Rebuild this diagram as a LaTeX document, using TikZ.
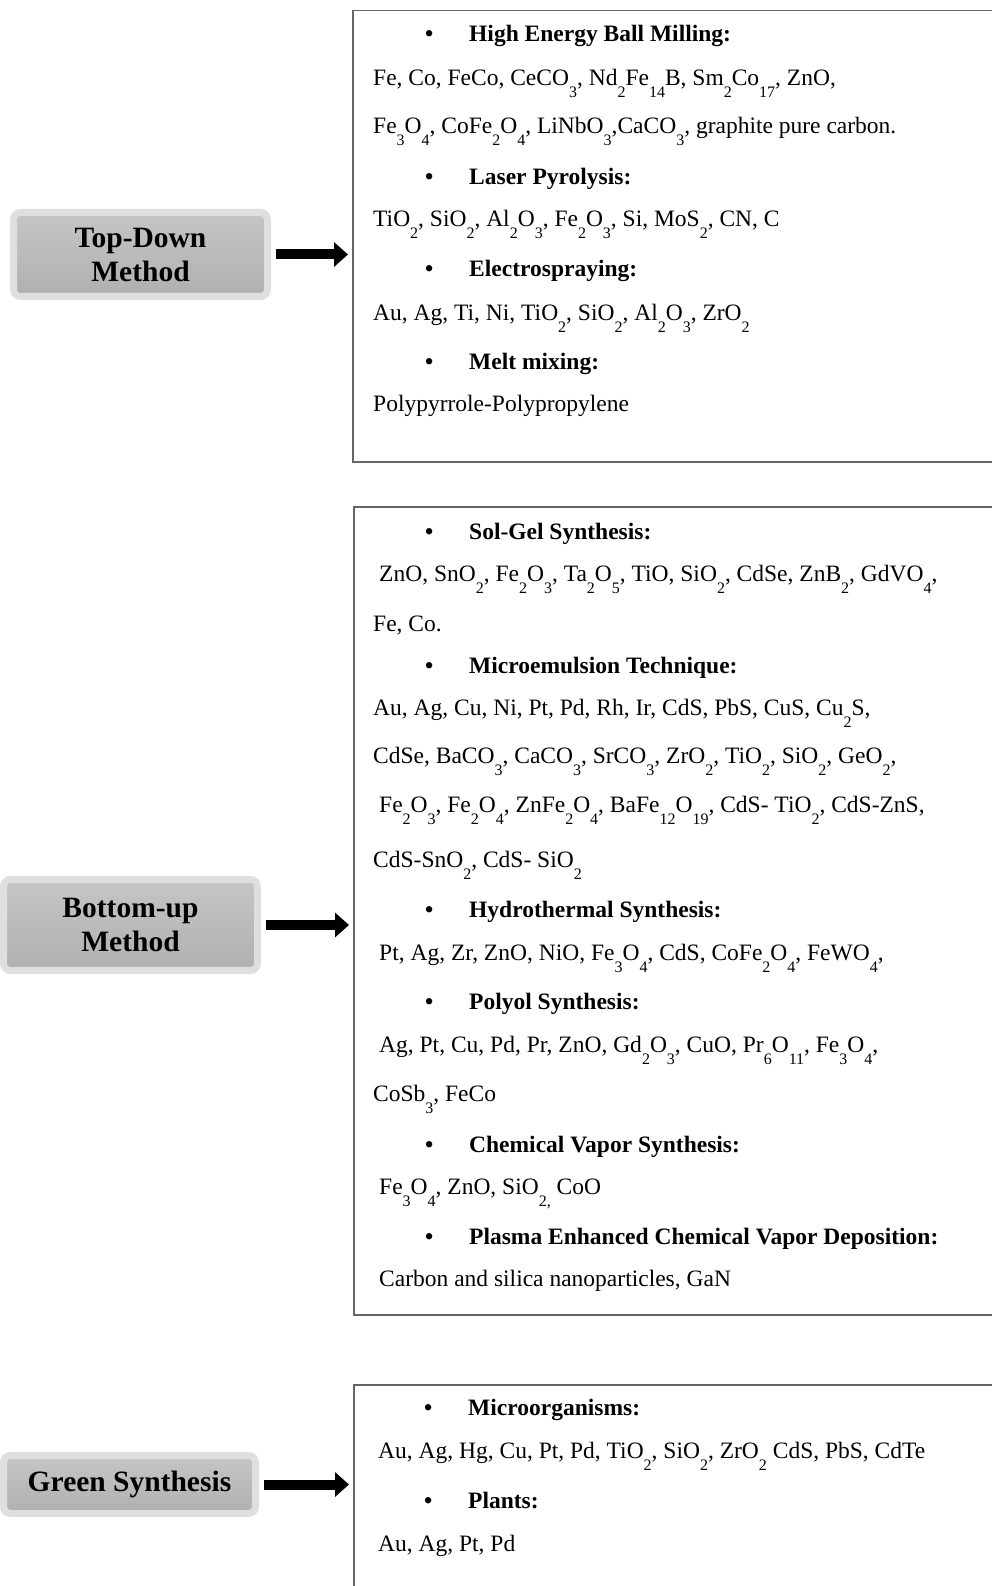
\documentclass[tikz,border=0pt]{standalone}
\usepackage{fontspec}
\setmainfont{Liberation Serif}
\usetikzlibrary{shadows,arrows.meta}
\newcommand\sbs[1]{\raisebox{-12pt}{\fontsize{16}{16}\selectfont #1}}
\newcommand\bul{\makebox[44pt][l]{\textbullet}}
\begin{document}
\begin{tikzpicture}[x=1pt,y=-1pt,
  txt/.style={anchor=base west,inner sep=0pt,font=\fontsize{23.5}{28}\selectfont},
  head/.style={txt,font=\fontsize{23.5}{28}\selectfont\bfseries},
  listbox/.style={draw=black!60,line width=1.5pt,anchor=north west,inner sep=0pt,minimum width=700pt},
  method/.style={draw=gray!25,line width=7pt,rounded corners=7pt,top color=gray!45,bottom color=gray!62,drop shadow={opacity=0.35,shadow xshift=2pt,shadow yshift=-2pt},align=center,inner sep=0pt,font=\fontsize{29.5}{34}\selectfont\bfseries},
  goes/.style={-{Triangle[length=14pt,width=24pt]},line width=10pt,shorten <=5pt,shorten >=4pt}]
\useasboundingbox (0,0) rectangle (992,1586);
\clip (0,0) rectangle (992,1586);
\node[listbox,minimum height=451pt] (tdbox) at (352,10) {};
\node[listbox,minimum height=808pt] (bubox) at (353,506) {};
\node[listbox,minimum height=300pt] (gsbox) at (353,1384) {};
\node[method,minimum width=254pt,minimum height=84pt] (td) at (140.5,254.5) {Top-Down\\Method};
\node[method,minimum width=254pt,minimum height=91pt] (bu) at (130.5,925) {Bottom-up\\Method};
\node[method,minimum width=252pt,minimum height=58pt] (gs) at (129.5,1484.5) {Green Synthesis};
\draw[goes] (td.east) -- (td.east -| tdbox.west);
\draw[goes] (bu.east) -- (bu.east -| bubox.west);
\draw[goes] (gs.east) -- (gs.east -| gsbox.west);
\node[head] (tdh1) at (425,42) {\bul High Energy Ball Milling:};
\node[txt] (td1) at (373,86) {Fe, Co, FeCo, CeCO\sbs{3}, Nd\sbs{2}Fe\sbs{14}B, Sm\sbs{2}Co\sbs{17}, ZnO,};
\node[txt] (td2) at (373,134) {Fe\sbs{3}O\sbs{4}, CoFe\sbs{2}O\sbs{4}, LiNbO\sbs{3},CaCO\sbs{3}, graphite pure carbon.};
\node[head] (tdh2) at (425,185) {\bul Laser Pyrolysis:};
\node[txt] (td3) at (373,227) {TiO\sbs{2}, SiO\sbs{2}, Al\sbs{2}O\sbs{3}, Fe\sbs{2}O\sbs{3}, Si, MoS\sbs{2}, CN, C};
\node[head] (tdh3) at (425,277) {\bul Electrospraying:};
\node[txt] (td4) at (373,320) {Au, Ag, Ti, Ni, TiO\sbs{2}, SiO\sbs{2}, Al\sbs{2}O\sbs{3}, ZrO\sbs{2}};
\node[head] (tdh4) at (425,369) {\bul Melt mixing:};
\node[txt] (td5) at (373,411) {Polypyrrole-Polypropylene};
\node[head] (buh1) at (425,539) {\bul Sol-Gel Synthesis:};
\node[txt] (bu1) at (379,581) {ZnO, SnO\sbs{2}, Fe\sbs{2}O\sbs{3}, Ta\sbs{2}O\sbs{5}, TiO, SiO\sbs{2}, CdSe, ZnB\sbs{2}, GdVO\sbs{4},};
\node[txt] (bu2) at (373,631) {Fe, Co.};
\node[head] (buh2) at (425,673) {\bul Microemulsion Technique:};
\node[txt] (bu3) at (373,715) {Au, Ag, Cu, Ni, Pt, Pd, Rh, Ir, CdS, PbS, CuS, Cu\sbs{2}S,};
\node[txt] (bu4) at (373,763) {CdSe, BaCO\sbs{3}, CaCO\sbs{3}, SrCO\sbs{3}, ZrO\sbs{2}, TiO\sbs{2}, SiO\sbs{2}, GeO\sbs{2},};
\node[txt] (bu5) at (379,812) {Fe\sbs{2}O\sbs{3}, Fe\sbs{2}O\sbs{4}, ZnFe\sbs{2}O\sbs{4}, BaFe\sbs{12}O\sbs{19}, CdS- TiO\sbs{2}, CdS-ZnS,};
\node[txt] (bu6) at (373,867) {CdS-SnO\sbs{2}, CdS- SiO\sbs{2}};
\node[head] (buh3) at (425,917) {\bul Hydrothermal Synthesis:};
\node[txt] (bu7) at (379,960) {Pt, Ag, Zr, ZnO, NiO, Fe\sbs{3}O\sbs{4}, CdS, CoFe\sbs{2}O\sbs{4}, FeWO\sbs{4},};
\node[head] (buh4) at (425,1009) {\bul Polyol Synthesis:};
\node[txt] (bu8) at (379,1052) {Ag, Pt, Cu, Pd, Pr, ZnO, Gd\sbs{2}O\sbs{3}, CuO, Pr\sbs{6}O\sbs{11}, Fe\sbs{3}O\sbs{4},};
\node[txt] (bu9) at (373,1101) {CoSb\sbs{3}, FeCo};
\node[head] (buh5) at (425,1152) {\bul Chemical Vapor Synthesis:};
\node[txt] (bu10) at (379,1194) {Fe\sbs{3}O\sbs{4}, ZnO, SiO\sbs{2,} CoO};
\node[head] (buh6) at (425,1244) {\bul Plasma Enhanced Chemical Vapor Deposition:};
\node[txt] (bu11) at (379,1286) {Carbon and silica nanoparticles, GaN};
\node[head] (gsh1) at (424,1415) {\bul Microorganisms:};
\node[txt] (gs1) at (378,1458) {Au, Ag, Hg, Cu, Pt, Pd, TiO\sbs{2}, SiO\sbs{2}, ZrO\sbs{2} CdS, PbS, CdTe};
\node[head] (gsh2) at (424,1508) {\bul Plants:};
\node[txt] (gs2) at (378,1551) {Au, Ag, Pt, Pd};
\end{tikzpicture}
\end{document}
